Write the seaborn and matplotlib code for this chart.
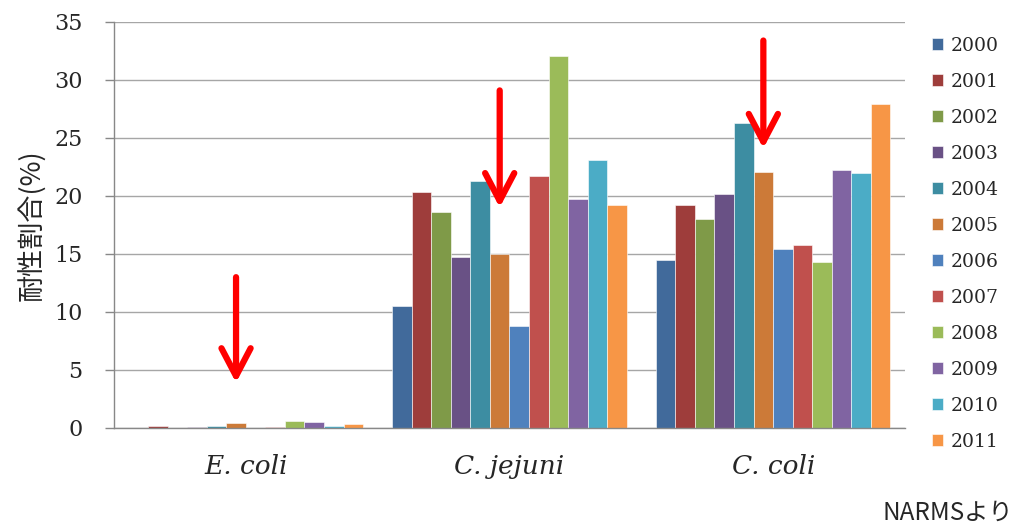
import matplotlib
matplotlib.use("Agg")
import matplotlib.pyplot as plt
import pandas as pd
import seaborn as sns

SPECIES = ["E. coli", "C. jejuni", "C. coli"]
YEARS = ["2000", "2001", "2002", "2003", "2004", "2005",
         "2006", "2007", "2008", "2009", "2010", "2011"]
E_COLI = [0.0, 0.2, 0.0, 0.1, 0.2, 0.4, 0.0, 0.1, 0.6, 0.5, 0.2, 0.3]
C_JEJUNI = [10.5, 20.3, 18.6, 14.7, 21.3, 15.0, 8.8, 21.7, 32.1, 19.7, 23.1, 19.2]
C_COLI = [14.5, 19.2, 18.0, 20.2, 26.3, 22.1, 15.4, 15.8, 14.3, 22.2, 22.0, 27.9]
Y_TICKS = [0, 5, 10, 15, 20, 25, 30, 35]

# red arrows point at the 2005 bar of each group
ARROW_YEAR = "2005"
ARROW_TOP = [13.0, 29.1, 33.4]
ARROW_TIP = [3.9, 19.0, 24.1]

COLORS = ["#416A9B", "#9E3D3B", "#7F9A48", "#695185", "#3D8DA2", "#CC7A38",
          "#4F81BD", "#C0504D", "#9BBB59", "#8064A2", "#4BACC6", "#F79646"]

SERIF = "DejaVu Serif"
CJK = ["Noto Sans CJK JP", "DejaVu Sans"]


def build_frame():
    rows = []
    for sp, vals in zip(SPECIES, [E_COLI, C_JEJUNI, C_COLI]):
        for yr, v in zip(YEARS, vals):
            rows.append({"species": sp, "year": yr, "value": v})
    return pd.DataFrame(rows)


def main():
    sns.set_theme(style="white")
    plt.rcParams["font.family"] = [SERIF]

    df = build_frame()
    fig = plt.figure(figsize=(10.16, 5.27), dpi=100)
    ax = fig.add_axes([0.1122, 0.1879, 0.7785, 0.7704])

    sns.barplot(data=df, x="species", y="value", hue="year", hue_order=YEARS,
                palette=COLORS, saturation=1, width=0.89, edgecolor="white",
                linewidth=0.4, ax=ax, legend=True)

    ax.set_xlim(-0.5, 2.5)
    ax.set_ylim(0, 35)
    ax.set_yticks(Y_TICKS)
    ax.set_yticklabels([str(t) for t in Y_TICKS], fontsize=16, family=SERIF)
    ax.yaxis.grid(True, color="#A6A6A6", linewidth=1.0)
    ax.set_axisbelow(True)

    ax.set_xticks([0, 1, 2])
    ax.set_xticklabels(SPECIES, fontsize=19, family=SERIF, style="italic")
    ax.set_xticks([-0.5, 0.5, 1.5, 2.5], minor=True)
    ax.tick_params(axis="x", which="major", length=0, pad=19)
    ax.tick_params(axis="x", which="minor", length=8, color="#888888", width=1)
    ax.tick_params(axis="y", length=6.5, color="#888888", width=1, pad=16, left=True)

    for side in ["top", "right"]:
        ax.spines[side].set_visible(False)
    for side in ["left", "bottom"]:
        ax.spines[side].set_color("#888888")
        ax.spines[side].set_linewidth(1)

    ax.set_xlabel("")
    ax.set_ylabel("耐性割合(%)", fontsize=19.5, family=CJK, labelpad=6)

    # arrows
    bars = ax.containers[YEARS.index(ARROW_YEAR)]
    for bar, top, tip in zip(bars, ARROW_TOP, ARROW_TIP):
        xc = bar.get_x() + bar.get_width() / 2
        ax.annotate("", xy=(xc, tip), xytext=(xc, top),
                    arrowprops=dict(arrowstyle="->,head_length=2.0,head_width=1.05",
                                    color="#FF0000", lw=4.5, shrinkA=0, shrinkB=0,
                                    mutation_scale=10, capstyle="round",
                                    joinstyle="round"))

    handles, labels = ax.get_legend_handles_labels()
    ax.legend_.remove()
    fig.legend(handles, labels, loc="center left", bbox_to_anchor=(0.917, 0.537),
               frameon=False, borderaxespad=0, borderpad=0,
               prop={"family": SERIF, "size": 13.5},
               handlelength=0.6, handleheight=0.6, handletextpad=0.4,
               labelspacing=0.96)

    fig.text(0.997, 0.003, "NARMSより", ha="right", va="bottom",
             fontsize=17.5, family=CJK)

    fig.savefig("out.png", dpi=100)


if __name__ == "__main__":
    main()
